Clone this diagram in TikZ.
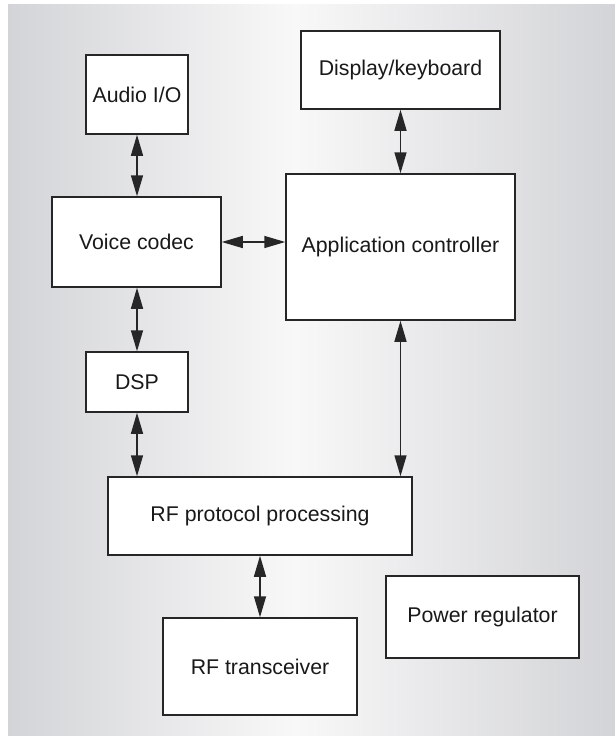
\documentclass[tikz,border=0pt]{standalone}
\usepackage{fontspec}
\setmainfont{Liberation Sans}
\usetikzlibrary{arrows.meta}
\definecolor{edgegray}{HTML}{D3D4D7}
\definecolor{midgray}{HTML}{F8F8F8}
\definecolor{linegray}{HTML}{262626}
\begin{document}
\begin{tikzpicture}[x=1pt,y=-1pt,
  block/.style={draw=linegray,line width=1.5pt,fill=white,inner sep=0pt,
    font=\fontsize{21.3}{25}\selectfont,text=black!90},
  link/.style={draw=linegray,line width=1.5pt,
    {Triangle[length=21pt,width=12pt]}-{Triangle[length=21pt,width=12pt]}}]
  % page and shaded backdrop
  \useasboundingbox (0,0) rectangle (615,736);
  \shade[left color=edgegray,right color=midgray] (8,4) rectangle (295,736);
  \shade[left color=midgray,right color=edgegray] (295,4) rectangle (615,736);
  % blocks
  \node[block,minimum width=102pt,minimum height=79pt] (audio) at (137,94.5) {Audio I/O};
  \node[block,minimum width=199pt,minimum height=78pt] (disp) at (400.5,70) {Display/keyboard};
  \node[block,minimum width=169pt,minimum height=90pt] (codec) at (136.5,242) {Voice codec};
  \node[block,minimum width=229pt,minimum height=146pt] (app) at (400.5,247) {Application controller};
  \node[block,minimum width=102pt,minimum height=60pt] (dsp) at (137,382) {DSP};
  \node[block,minimum width=304pt,minimum height=78pt] (rfp) at (260,516) {RF protocol processing};
  \node[block,minimum width=194pt,minimum height=97pt] (rft) at (260,666.5) {RF transceiver};
  \node[block,minimum width=193pt,minimum height=82pt] (pwr) at (482.5,617) {Power regulator};
  % connections
  \draw[link] (audio.south) -- (audio.south |- codec.north);
  \draw[link] (codec.east) -- (codec.east -| app.west);
  \draw[link] (codec.south -| audio.south) -- (audio.south |- dsp.north);
  \draw[link] (dsp.south) -- (dsp.south |- rfp.north);
  \draw[link] (disp.south) -- (app.north);
  \draw[link] (app.south) -- (app.south |- rfp.north);
  \draw[link] (rfp.south) -- (rft.north);
\end{tikzpicture}
\end{document}
